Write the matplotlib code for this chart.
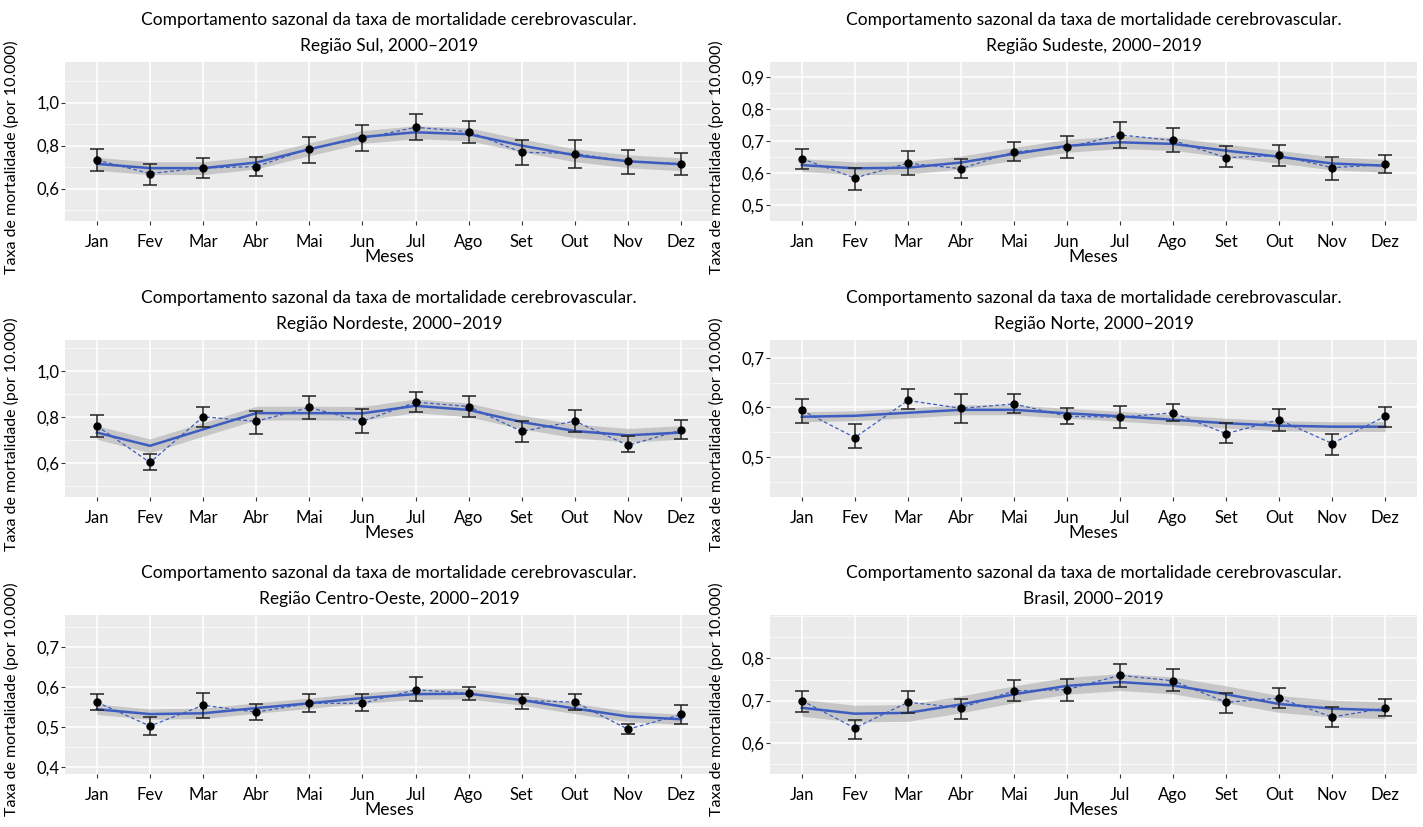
# Sazonalidade da mortalidade cerebrovascular por região
import numpy as np
import matplotlib
matplotlib.use('Agg')
import matplotlib.pyplot as plt
from matplotlib.ticker import FuncFormatter, AutoMinorLocator

plt.rcParams['font.family'] = ['Lato', 'DejaVu Sans']

meses = ['Jan', 'Fev', 'Mar', 'Abr', 'Mai', 'Jun', 'Jul', 'Ago', 'Set', 'Out', 'Nov', 'Dez']

# médias mensais, limites dos intervalos e curva suavizada
sul_media = [0.733, 0.670, 0.696, 0.702, 0.786, 0.833, 0.885, 0.865, 0.769, 0.763, 0.726, 0.716]
sul_sup   = [0.786, 0.716, 0.743, 0.747, 0.842, 0.895, 0.949, 0.916, 0.828, 0.826, 0.780, 0.767]
sul_inf   = [0.684, 0.616, 0.647, 0.657, 0.721, 0.774, 0.828, 0.814, 0.710, 0.695, 0.670, 0.664]
sul_suav  = [0.715, 0.695, 0.695, 0.721, 0.783, 0.840, 0.862, 0.853, 0.800, 0.755, 0.727, 0.713]

se_media = [0.645, 0.585, 0.631, 0.614, 0.666, 0.680, 0.719, 0.702, 0.648, 0.655, 0.617, 0.627]
se_sup   = [0.676, 0.617, 0.670, 0.645, 0.698, 0.715, 0.758, 0.740, 0.684, 0.688, 0.651, 0.655]
se_inf   = [0.614, 0.548, 0.594, 0.584, 0.638, 0.648, 0.679, 0.666, 0.620, 0.623, 0.580, 0.599]
se_suav  = [0.625, 0.615, 0.617, 0.633, 0.660, 0.685, 0.696, 0.691, 0.670, 0.651, 0.630, 0.623]

ne_media = [0.761, 0.601, 0.801, 0.781, 0.842, 0.781, 0.865, 0.846, 0.737, 0.782, 0.676, 0.743]
ne_sup   = [0.810, 0.637, 0.845, 0.826, 0.890, 0.836, 0.910, 0.894, 0.781, 0.832, 0.717, 0.787]
ne_inf   = [0.711, 0.567, 0.756, 0.726, 0.793, 0.732, 0.820, 0.800, 0.692, 0.733, 0.647, 0.703]
ne_suav  = [0.732, 0.674, 0.746, 0.817, 0.817, 0.816, 0.849, 0.831, 0.778, 0.739, 0.720, 0.732]

no_media = [0.594, 0.539, 0.614, 0.598, 0.607, 0.582, 0.580, 0.589, 0.547, 0.575, 0.527, 0.582]
no_sup   = [0.616, 0.566, 0.637, 0.626, 0.626, 0.598, 0.602, 0.607, 0.568, 0.597, 0.547, 0.600]
no_inf   = [0.568, 0.517, 0.596, 0.568, 0.589, 0.566, 0.559, 0.573, 0.529, 0.552, 0.503, 0.561]
no_suav  = [0.581, 0.583, 0.589, 0.595, 0.595, 0.588, 0.582, 0.575, 0.568, 0.563, 0.561, 0.561]

co_media = [0.563, 0.503, 0.555, 0.538, 0.560, 0.560, 0.594, 0.585, 0.567, 0.563, 0.495, 0.532]
co_sup   = [0.583, 0.526, 0.585, 0.557, 0.583, 0.583, 0.625, 0.600, 0.583, 0.583, 0.508, 0.555]
co_inf   = [0.542, 0.481, 0.523, 0.518, 0.538, 0.540, 0.566, 0.568, 0.546, 0.542, 0.483, 0.508]
co_suav  = [0.545, 0.533, 0.535, 0.548, 0.560, 0.573, 0.583, 0.584, 0.568, 0.547, 0.527, 0.520]

br_media = [0.700, 0.635, 0.696, 0.683, 0.723, 0.726, 0.760, 0.747, 0.696, 0.706, 0.661, 0.682]
br_sup   = [0.723, 0.654, 0.723, 0.704, 0.748, 0.752, 0.788, 0.774, 0.717, 0.730, 0.685, 0.704]
br_inf   = [0.674, 0.609, 0.671, 0.657, 0.698, 0.698, 0.733, 0.722, 0.671, 0.682, 0.637, 0.663]
br_suav  = [0.683, 0.669, 0.671, 0.691, 0.715, 0.735, 0.744, 0.736, 0.715, 0.692, 0.681, 0.677]

# meia largura da faixa do suavizador
bandas = [0.030, 0.020, 0.030, 0.010, 0.013, 0.020]

regioes = ['Região Sul', 'Região Sudeste', 'Região Nordeste', 'Região Norte',
           'Região Centro-Oeste', 'Brasil']
medias = [sul_media, se_media, ne_media, no_media, co_media, br_media]
sups = [sul_sup, se_sup, ne_sup, no_sup, co_sup, br_sup]
infs = [sul_inf, se_inf, ne_inf, no_inf, co_inf, br_inf]
suaves = [sul_suav, se_suav, ne_suav, no_suav, co_suav, br_suav]

yticks = [[0.6, 0.8, 1.0], [0.5, 0.6, 0.7, 0.8, 0.9], [0.6, 0.8, 1.0],
          [0.5, 0.6, 0.7], [0.4, 0.5, 0.6, 0.7], [0.6, 0.7, 0.8]]
ylims = [(0.449, 1.189), (0.451, 0.946), (0.450, 1.137),
         (0.419, 0.736), (0.383, 0.781), (0.526, 0.903)]

W, H = 1423, 827
fig = plt.figure(figsize=(W / 100, H / 100), dpi=100)

colunas = [(65, 713), (770, 1417)]
linhas = [(62, 221), (340, 497), (615, 774)]
ylab_pos = [0.40, 0.40, 0.47]

azul = '#3d5cbf'
x = np.arange(len(meses))

for i in range(6):
    cx0, cx1 = colunas[i % 2]
    ry0, ry1 = linhas[i // 2]
    ax = fig.add_axes([cx0 / W, 1 - ry1 / H, (cx1 - cx0) / W, (ry1 - ry0) / H])
    ax.set_facecolor('#ebebeb')
    for s in ax.spines.values():
        s.set_visible(False)

    suav = np.array(suaves[i])
    ax.fill_between(x, suav - bandas[i], suav + bandas[i], color='#999999',
                    alpha=0.45, lw=0, zorder=2)
    ax.plot(x, suav, color=azul, lw=1.8, zorder=3)
    ax.plot(x, medias[i], color=azul, lw=0.9, ls=(0, (3, 2)), zorder=3)
    m = np.array(medias[i])
    ax.errorbar(x, m, yerr=[m - np.array(infs[i]), np.array(sups[i]) - m],
                fmt='o', color='black', ecolor='#222222', elinewidth=1.1,
                capsize=5, capthick=1.1, markersize=5, zorder=4)

    ax.set_xlim(-0.6, 11.6)
    ax.set_ylim(*ylims[i])
    ax.tick_params(axis='y', labelsize=12, length=3, color='#333333', pad=1)
    ax.tick_params(axis='x', length=3, color='#333333', pad=16)
    ax.tick_params(which='minor', length=0)
    ax.set_xticks(x)
    ax.set_xticklabels(meses, fontsize=12)
    for lbl in ax.get_xticklabels():
        lbl.set_verticalalignment('baseline')
    ax.set_yticks(yticks[i])
    ax.yaxis.set_major_formatter(FuncFormatter(lambda v, p: ('%.1f' % v).replace('.', ',')))
    ax.yaxis.set_minor_locator(AutoMinorLocator(2))
    ax.grid(True, which='major', color='white', lw=1.1, zorder=0)
    ax.grid(True, which='minor', axis='y', color='white', lw=0.5, zorder=0)
    ax.set_axisbelow(True)

    ax.set_xlabel('Meses', fontsize=12.5, va='center')
    ax.set_ylabel('Taxa de mortalidade (por 10.000)', fontsize=11.5)
    ax.xaxis.set_label_coords(0.5, -36 / (ry1 - ry0))
    ax.yaxis.set_label_coords(-46 / (cx1 - cx0), ylab_pos[i // 2])
    ax.set_title('Comportamento sazonal da taxa de mortalidade cerebrovascular.\n'
                 + regioes[i] + ', 2000\u20132019', fontsize=12.5, pad=8, linespacing=1.75)

fig.savefig('out.png', dpi=100)
